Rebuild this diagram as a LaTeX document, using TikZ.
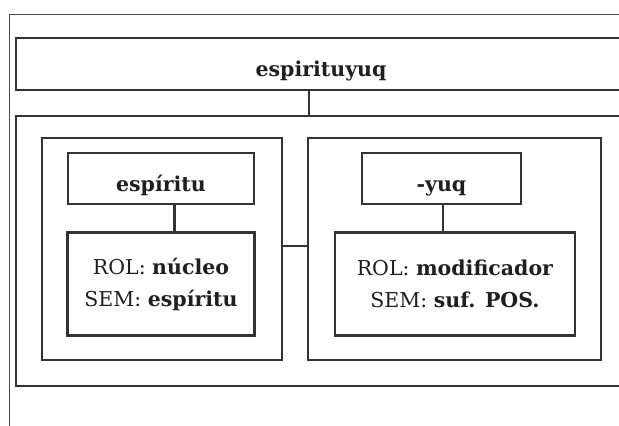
\documentclass[tikz,border=0pt]{standalone}
\usepackage{fontspec}
\setmainfont{DejaVu Serif}
\usetikzlibrary{positioning}

\begin{document}
\begin{tikzpicture}[x=1pt,y=1pt,
	box/.style={draw=black!80,line width=2.6pt,inner sep=0pt,text=black!88,
		font=\fontsize{20.5pt}{32pt}\selectfont},
	word/.style={box,text height=31pt,text depth=5pt,font=\fontsize{20.5pt}{32pt}\selectfont\bfseries},
	link/.style={draw=black!80,line width=2.6pt}]
	
	\useasboundingbox (0,0) rectangle (619,426);
	\fill[white] (0,0) rectangle (619,426);
	\clip (0,0) rectangle (619,426);
	\draw[black!70,line width=1pt] (9,-5) -- (9,411) -- (640,411);
	
	\node[word,minimum width=610pt,minimum height=52pt] (root) at (321,362) {espirituyuq};
	\node[box,minimum width=610pt,minimum height=270pt] (body) at (321,175) {};
	
	\node[box,minimum width=240pt,minimum height=222pt] (left) at (162,177) {};
	\node[box,minimum width=293pt,minimum height=222pt] (right) at (454.5,177) {};
	
	\node[word,minimum width=186pt,minimum height=51pt] (esp) at (161,247.5) {espíritu};
	\node[box,minimum width=187pt,minimum height=103pt,align=center] (rol_l) [below=26pt of esp] {ROL: \textbf{núcleo}\\SEM: \textbf{espíritu}};
	
	\node[word,minimum width=159pt,minimum height=51pt] (yuq) at (441.5,247.5) {-yuq};
	\node[box,minimum width=240pt,minimum height=103pt,align=center] (rol_r) [below=26pt of yuq,xshift=13.5pt] {ROL: \textbf{modificador}\\SEM: \textbf{suf. POS.}};
	
	\draw[link] ([xshift=-12pt]root.south) -- ([xshift=-12pt]root.south |- body.north);
	\draw[link] ([yshift=3pt]left.east) -- ([yshift=3pt]right.west);
	\draw[link] ([xshift=13.5pt]esp.south) -- ([xshift=13.5pt]esp.south |- rol_l.north);
	\draw[link] ([xshift=1.5pt]yuq.south) -- ([xshift=1.5pt]yuq.south |- rol_r.north);
\end{tikzpicture}
\end{document}
